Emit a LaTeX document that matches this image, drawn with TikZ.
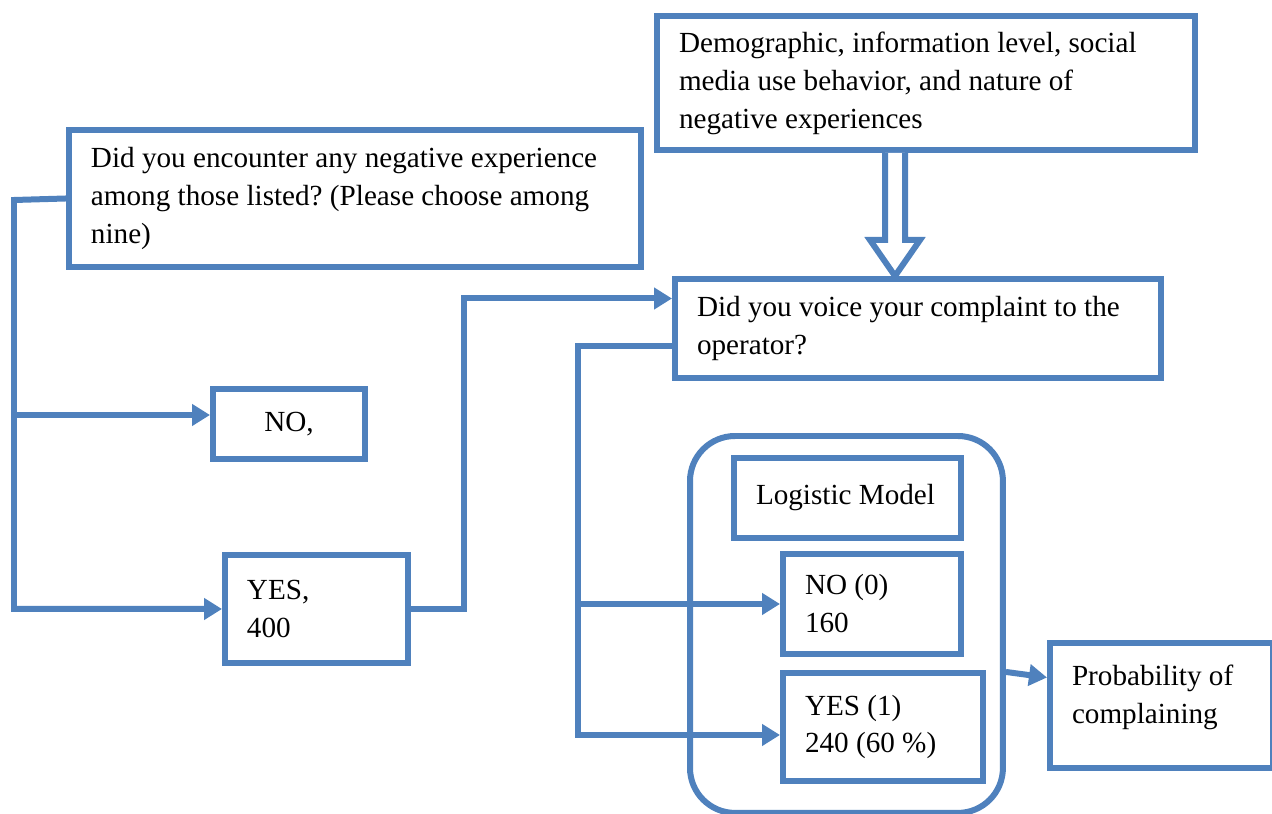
\documentclass[tikz,border=0pt]{standalone}
\usepackage{fontspec}
\setmainfont{Liberation Serif}
\usetikzlibrary{arrows.meta}
\definecolor{flowBlue}{RGB}{79,129,189}
\frenchspacing

\begin{document}
\begin{tikzpicture}[
    x=0.02cm, y=-0.02cm,
    >={Triangle[length=0.36cm, width=0.42cm]},
    box/.style={draw=flowBlue, line width=0.12cm, fill=white,
        anchor=north west, inner xsep=0.44cm, inner ysep=0pt,
        align=flush left, font=\fontsize{16.6}{21.6}\selectfont},
    link/.style={draw=flowBlue, line width=0.12cm},
    link arrow/.style={link, ->},
]
\useasboundingbox (0,0) rectangle (1272,814);

% ---- question boxes ----
\node[box, text width=9.88cm, minimum height=2.68cm] (factors) at (654,13)
    {Demographic, information level, social\\media use behavior, and nature of\\negative experiences};
\node[box, text width=10.56cm, minimum height=2.74cm] (qOne) at (66,127)
    {Did you encounter any negative experience\\among those listed? (Please choose among\\nine)};
\node[box, text width=8.84cm, minimum height=1.98cm] (qTwo) at (672,276)
    {Did you voice your complaint to the\\operator?};

% ---- answers to the first question ----
\node[box, text width=2.16cm, minimum height=1.40cm, align=flush center] (no) at (210,386) {NO,};
\node[box, text width=2.78cm, minimum height=2.16cm] (yes) at (222,552) {YES,\\400};

% ---- logistic model ----
\node[box, inner sep=0pt, minimum width=6.26cm, minimum height=7.54cm,
    rounded corners=0.9cm] (model) at (687,433) {};
\node[box, text width=3.66cm, minimum height=1.60cm] (logit) at (731,455) {Logistic Model};
\node[box, text width=2.68cm, minimum height=2.00cm] (noZero) at (780,551) {NO (0)\\160};
\node[box, text width=3.12cm, minimum height=2.16cm] (yesOne) at (780,670) {YES (1)\\240 (60 \%)};
\node[box, text width=3.58cm, minimum height=2.50cm] (prob) at (1047,640)
    {Probability of\\complaining\\[-0.3cm]\mbox{}};

% ---- connector end points ----
\coordinate (spine) at (14,200);
\coordinate (noIn) at ([yshift=0.18cm]no.west);
\coordinate (qTwoIn) at ([yshift=0.6cm]qTwo.west);
\coordinate (qTwoOut) at ([yshift=-0.36cm]qTwo.west);
\coordinate (trunk) at (578,0 |- qTwoOut);
\coordinate (yesOneIn) at ([yshift=-0.16cm]yesOne.west);

% ---- connectors ----
\draw[link arrow] (qOne.west) -- (spine) |- (yes.west);
\draw[link arrow] (spine |- noIn) -- (noIn);
\draw[link arrow] (yes.east) -- ++(53,0) |- (qTwoIn);
\draw[link arrow] (qTwoOut) -- (trunk) |- (yesOneIn);
\draw[link arrow] (trunk |- noZero.west) -- (noZero.west);
\draw[link arrow] ([yshift=-0.95cm]model.east) -- ([yshift=0.56cm]prob.west);

% block arrow from the factors into the second question
\draw[link, fill=white, line join=miter]
    (885,0 |- factors.south) -- (885,240) -- (870,240) -- (895,0 |- qTwo.north)
    -- (920,240) -- (905,240) -- (905,0 |- factors.south);

\end{tikzpicture}
\end{document}
